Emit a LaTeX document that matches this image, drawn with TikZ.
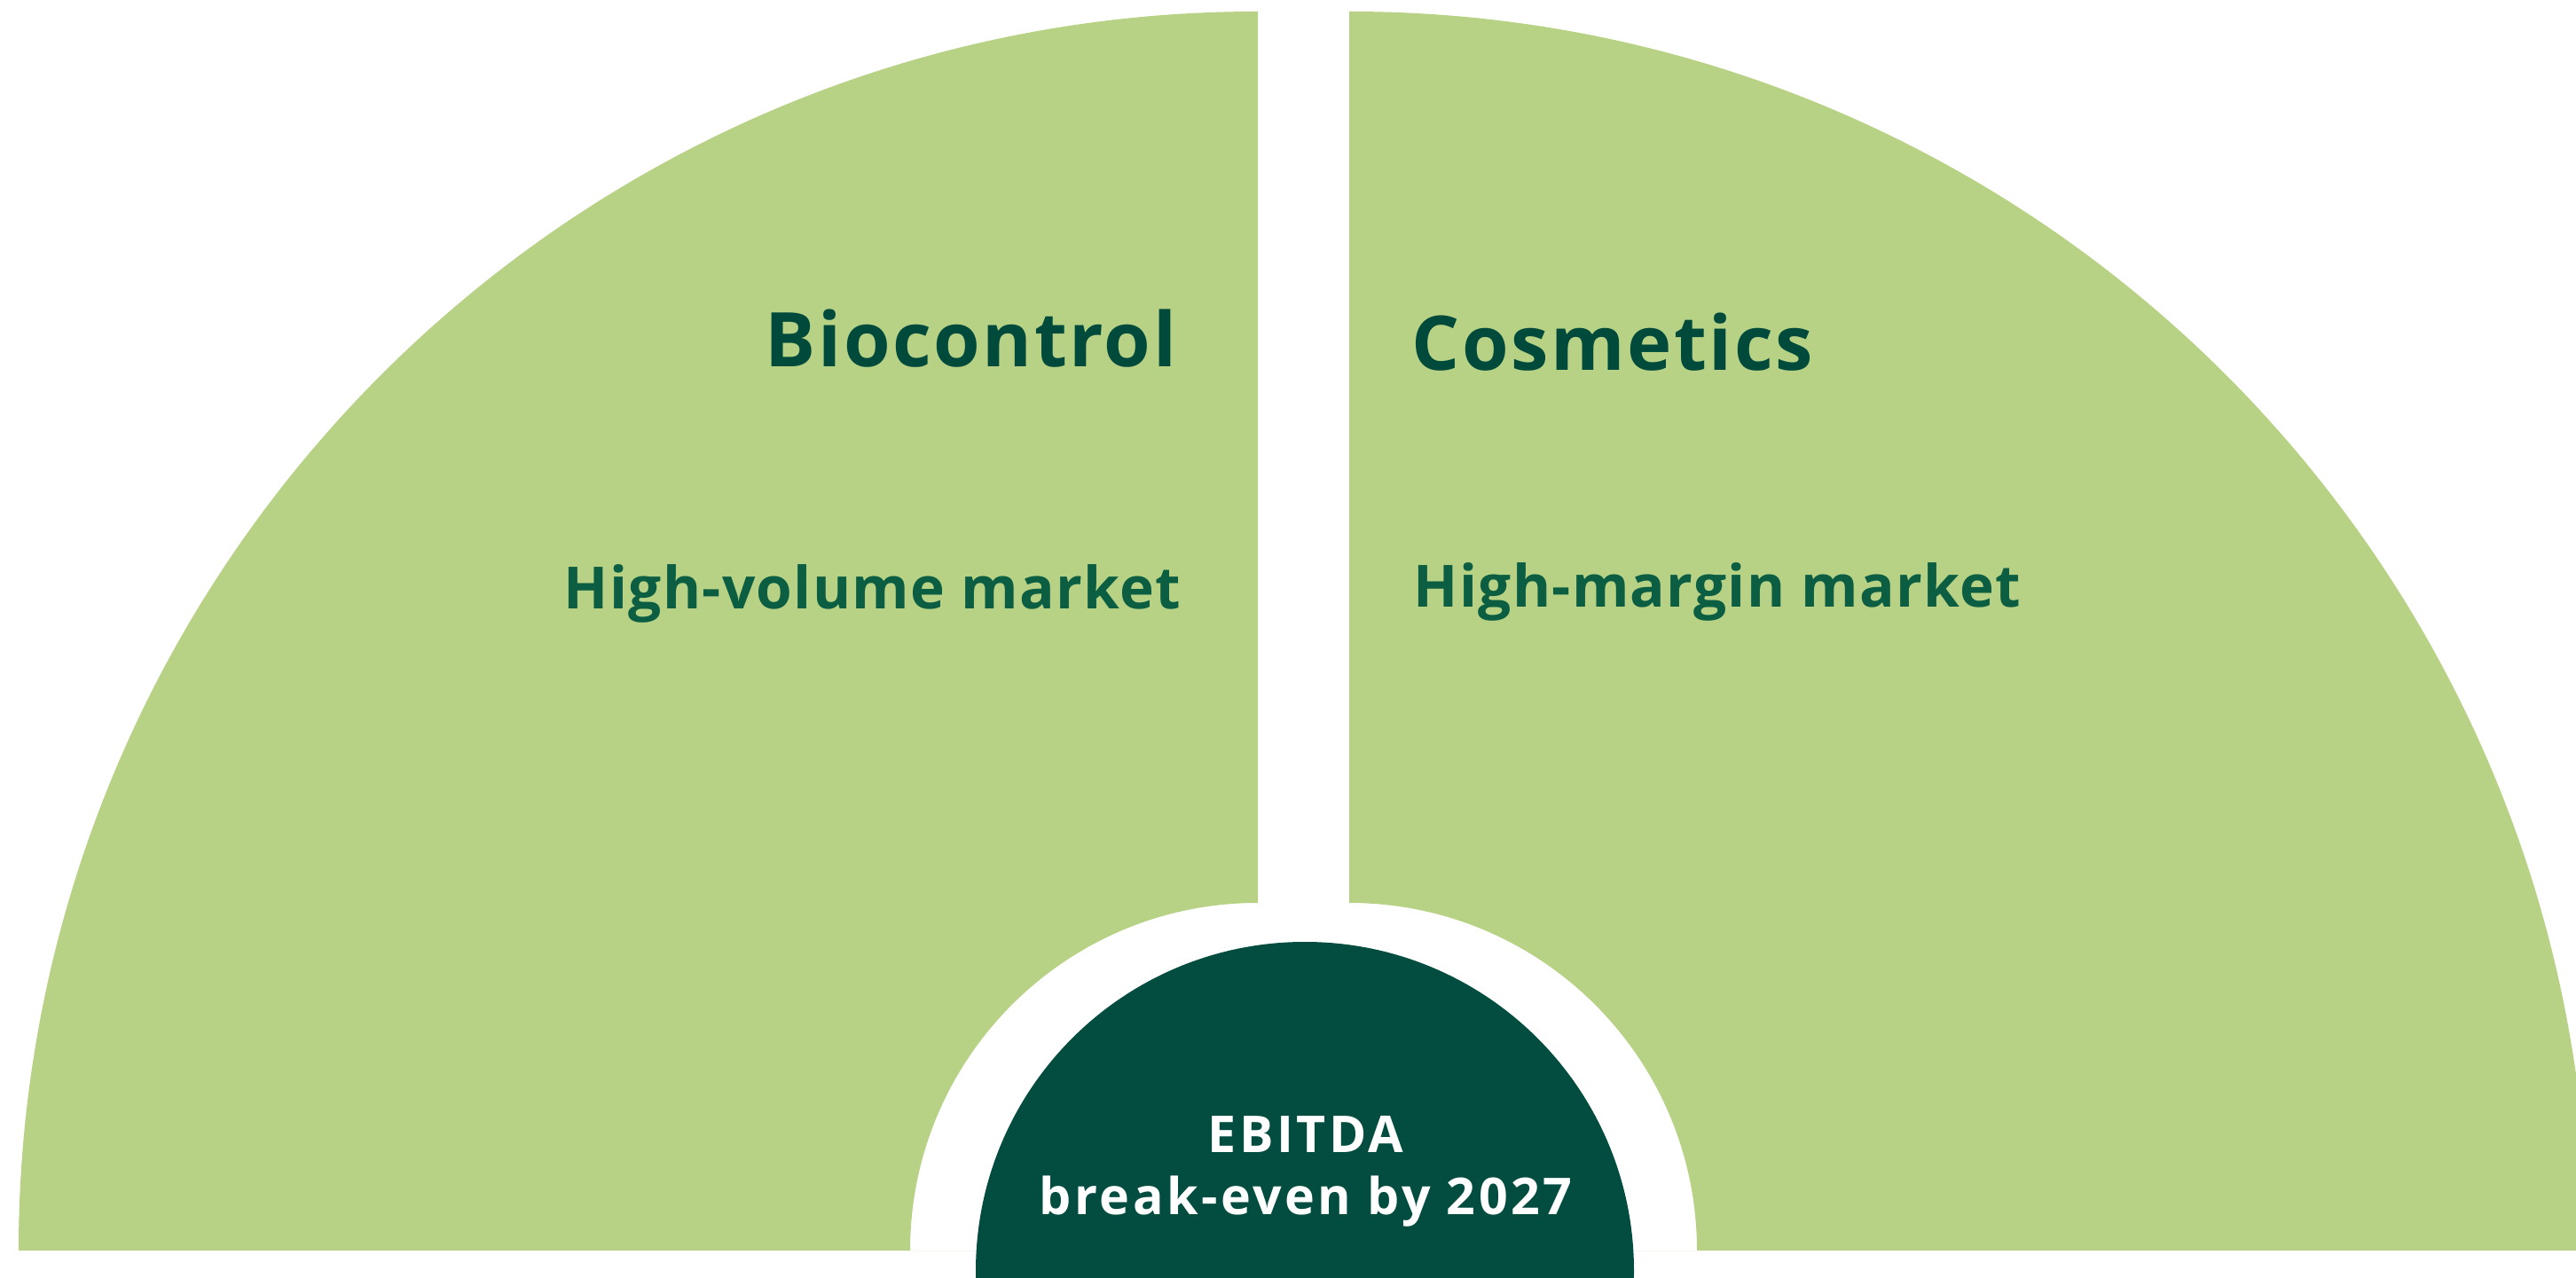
\documentclass[tikz,border=0pt]{standalone}
\usepackage{fontspec}
\setmainfont{Open Sans}
\usepackage{tikz}
\usetikzlibrary{positioning}
\definecolor{leaf}{HTML}{B7D285}
\definecolor{pine}{HTML}{024D40}
\definecolor{headtext}{HTML}{004A3C}
\definecolor{subtext}{HTML}{0C5E43}

\begin{document}
\begin{tikzpicture}[inner sep=0pt,
    title/.style={text=headtext, font=\fontsize{24.2}{29}\selectfont\bfseries\addfontfeatures{LetterSpace=3}},
    market/.style={text=subtext, font=\fontsize{18.7}{22}\selectfont\bfseries\addfontfeatures{LetterSpace=2}},
    goal/.style={text=white, font=\fontsize{16.3}{20}\selectfont\bfseries\addfontfeatures{LetterSpace=6}}]
    \useasboundingbox (0,0) rectangle (29.04,14.40);
    \clip (0,0) rectangle (29.04,14.40);
    \coordinate (cl) at (14.18,0.30);
    \coordinate (cr) at (15.21,0.30);
    \fill[leaf] (cl) -- ++(-3.92,0) arc (180:90:3.92) -- ++(0,10.05) arc (90:180:13.97) -- cycle;
    \fill[leaf] (cr) -- ++(3.92,0) arc (0:90:3.92) -- ++(0,10.05) arc (90:0:13.97) -- cycle;
    \fill[pine] (14.71,0.07) circle (3.71);
    \node[title, anchor=base east] (bio) at (13.27,10.26) {Biocontrol};
    \node[market, anchor=base east] (volume) at (13.32,7.53) {High-volume market};
    \node[title, anchor=base west] (cosm) at (15.91,10.22) {Cosmetics};
    \node[market, anchor=base west] (margin) at (15.93,7.55) {High-margin market};
    \node[goal, anchor=base] (ebitda) at (14.72,1.41) {EBITDA};
    \node[goal, anchor=base] (breakeven) at (14.72,0.71) {break-even by 2027};
\end{tikzpicture}
\end{document}
